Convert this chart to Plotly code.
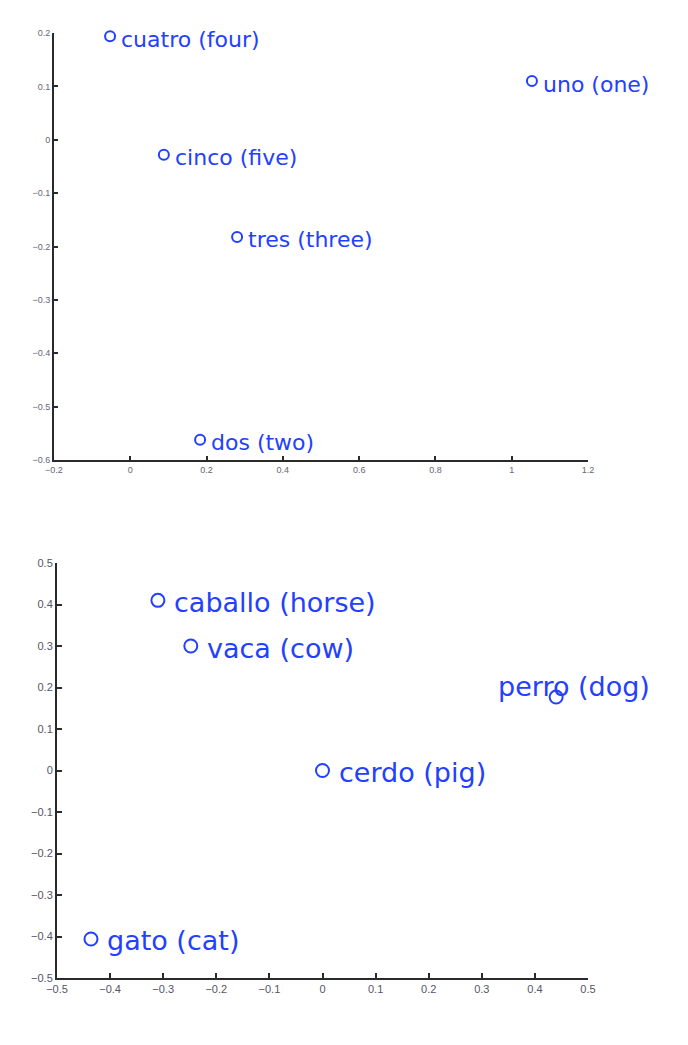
import plotly.graph_objects as go

# ---- data: numbers (top panel) ----
num_labels = ["uno (one)", "dos (two)", "tres (three)", "cuatro (four)", "cinco (five)"]
num_x = [1.053, 0.183, 0.280, -0.053, 0.088]
num_y = [0.110, -0.562, -0.182, 0.194, -0.028]

# ---- data: animals (bottom panel) ----
ani_labels = ["perro (dog)", "gato (cat)", "caballo (horse)", "vaca (cow)", "cerdo (pig)"]
ani_x = [0.440, -0.436, -0.310, -0.248, 0.000]
ani_y = [0.177, -0.406, 0.410, 0.300, 0.000]

top_xticks = [-0.2, 0, 0.2, 0.4, 0.6, 0.8, 1, 1.2]
top_yticks = [-0.6, -0.5, -0.4, -0.3, -0.2, -0.1, 0, 0.1, 0.2]
bot_ticks = [-0.5, -0.4, -0.3, -0.2, -0.1, 0, 0.1, 0.2, 0.3, 0.4, 0.5]

BLUE = "#2340ff"
W, H = 688, 1045
OFF = 8  # page body offset in pixels


def px_x(p):
    return (p - OFF) / W


def px_y(p):
    return 1 - (p - OFF) / H


fig = go.Figure()

fig.add_trace(go.Scatter(
    x=num_x, y=num_y, mode="markers", xaxis="x", yaxis="y",
    marker=dict(symbol="circle-open", size=10, color=BLUE, line=dict(width=2, color=BLUE)),
    hoverinfo="skip", showlegend=False, cliponaxis=False))
fig.add_trace(go.Scatter(
    x=ani_x, y=ani_y, mode="markers", xaxis="x2", yaxis="y2",
    marker=dict(symbol="circle-open", size=13, color=BLUE, line=dict(width=2, color=BLUE)),
    hoverinfo="skip", showlegend=False, cliponaxis=False))

annotations = []
for lab, x, y in zip(num_labels, num_x, num_y):
    annotations.append(dict(x=x, y=y, xref="x", yref="y", text=lab, showarrow=False,
                            xanchor="left", yanchor="middle", xshift=9, yshift=-3,
                            font=dict(family="DejaVu Sans", size=22, color=BLUE)))
# label offset overrides (style, not data)
special = {"perro (dog)": (-60, 11)}
for lab, x, y in zip(ani_labels, ani_x, ani_y):
    xs, ys = special.get(lab, (14, -2))
    annotations.append(dict(x=x, y=y, xref="x2", yref="y2", text=lab, showarrow=False,
                            xanchor="left", yanchor="middle", xshift=xs, yshift=ys,
                            font=dict(family="DejaVu Sans", size=27, color=BLUE)))

axis_common = dict(showgrid=False, zeroline=False, showline=True, linecolor="#2a2a2a",
                   linewidth=2, ticks="inside", tickcolor="#2a2a2a", tickwidth=1.5,
                   mirror=False, tickmode="array", automargin=False)

fig.update_layout(
    width=W, height=H,
    margin=dict(l=0, r=0, t=0, b=0, autoexpand=False),
    paper_bgcolor="white", plot_bgcolor="white",
    showlegend=False,
    annotations=annotations,
    xaxis=dict(domain=[px_x(54), px_x(588)], range=[-0.2, 1.2], anchor="y",
               tickvals=top_xticks, ticklen=4,
               tickfont=dict(family="Liberation Sans", size=9, color="#667"), **axis_common),
    yaxis=dict(domain=[px_y(460), px_y(33)], range=[-0.6, 0.2], anchor="x",
               tickvals=top_yticks, ticklen=4,
               tickfont=dict(family="Liberation Sans", size=9, color="#667"), **axis_common),
    xaxis2=dict(domain=[px_x(57), px_x(588)], range=[-0.5, 0.5], anchor="y2",
                tickvals=bot_ticks, ticklen=5,
                tickfont=dict(family="Liberation Sans", size=11, color="#556"), **axis_common),
    yaxis2=dict(domain=[px_y(978), px_y(563)], range=[-0.5, 0.5], anchor="x2",
                tickvals=bot_ticks, ticklen=5,
                tickfont=dict(family="Liberation Sans", size=11, color="#556"), **axis_common),
)

fig.write_html("out.html")
